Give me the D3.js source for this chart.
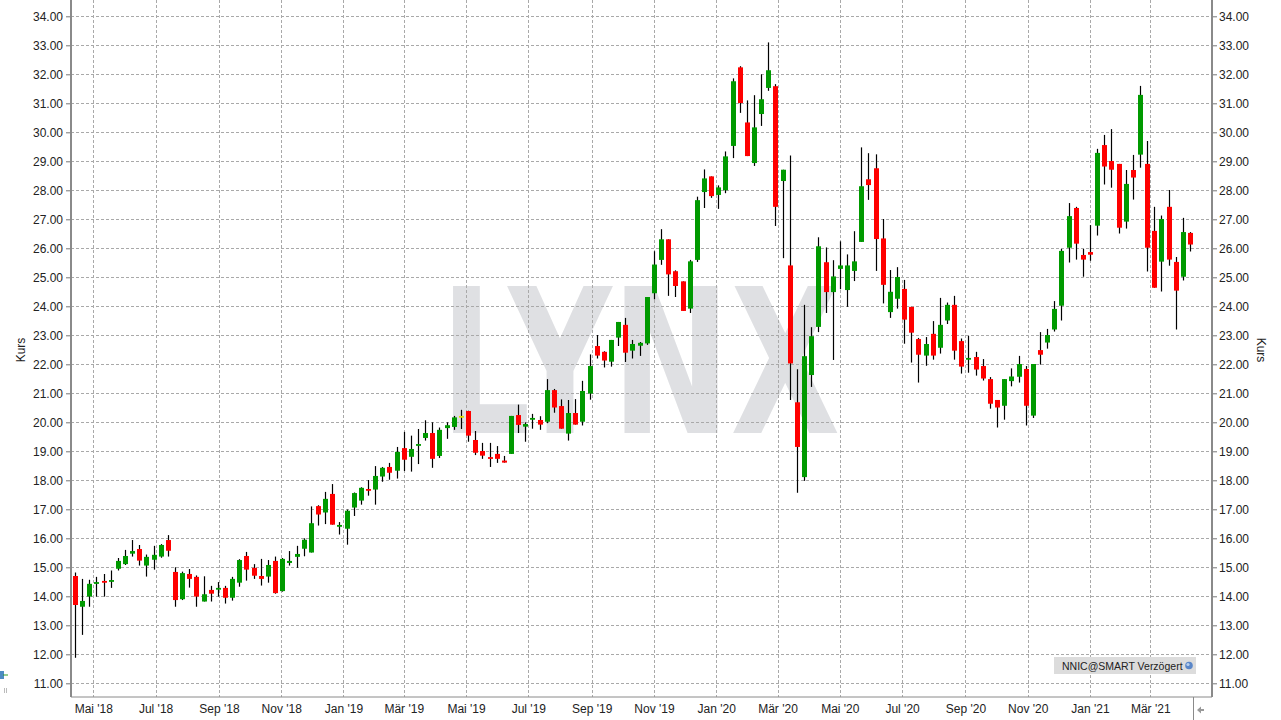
<!DOCTYPE html>
<html><head><meta charset="utf-8">
<script src="https://cdn.jsdelivr.net/npm/d3@7/dist/d3.min.js"></script>
<style>
html,body{margin:0;padding:0;background:#fff;}
svg{display:block;font-family:"Liberation Sans",Arial,sans-serif;}
</style></head>
<body>
<svg id="chart" width="1281" height="720"></svg>
<script>
// ---- data (weekly candles, NNIC) ----
const firstWeek = "2018-04-13";
const opens = [14.70,13.64,13.99,14.44,14.53,14.51,14.95,15.11,15.47,15.63,15.06,15.26,15.37,15.94,14.84,13.90,14.77,14.67,13.82,14.22,
14.23,14.29,13.95,14.47,15.39,14.98,14.70,14.68,15.22,14.18,15.15,15.36,15.64,15.51,17.11,16.89,17.53,16.40,16.33,17.06,
17.30,17.70,17.68,18.13,18.46,18.33,19.11,18.81,19.20,19.46,19.63,18.84,19.80,19.84,20.22,20.39,19.39,19.01,18.80,18.91,
18.68,18.91,20.25,19.85,20.09,20.08,20.02,21.11,20.56,19.61,20.32,20.02,20.99,22.63,22.43,22.09,22.92,23.36,22.47,22.64,
22.72,24.45,25.60,26.31,25.21,24.86,23.92,25.60,27.94,28.48,27.84,28.00,29.53,32.24,30.34,28.94,30.63,31.53,31.59,28.32,
25.41,20.69,18.11,21.63,23.29,25.52,24.49,25.29,24.56,25.22,26.22,28.38,28.76,26.34,23.80,24.26,24.60,23.98,22.87,22.30,
23.05,22.57,23.51,24.05,22.80,22.16,22.25,21.94,21.49,20.77,20.57,21.42,21.57,21.84,20.23,22.49,22.75,23.20,24.02,26.02,
27.39,25.77,25.87,26.78,29.56,29.01,28.91,26.92,28.70,29.23,28.91,26.60,25.54,27.43,25.53,25.02,26.53];
const highs = [14.82,14.60,14.57,14.67,14.77,14.89,15.32,15.60,15.94,15.77,15.44,15.74,15.80,16.11,15.00,14.85,14.94,14.72,14.69,14.36,
14.49,14.36,14.67,15.28,15.53,15.11,15.29,15.25,15.37,15.32,15.56,15.74,16.00,17.10,17.14,17.60,17.87,16.56,16.99,17.58,
17.76,18.01,18.49,18.46,18.60,19.15,19.67,19.54,19.77,20.07,20.00,19.82,20.00,20.22,20.43,20.40,19.70,19.29,19.29,19.18,
18.84,20.22,20.61,20.00,20.29,20.21,21.49,21.15,20.79,20.77,20.80,21.43,22.34,23.01,22.45,22.84,23.46,23.60,22.84,22.77,
24.32,25.90,26.66,26.31,25.24,24.86,25.60,27.78,28.72,28.48,28.17,29.34,31.86,32.28,31.10,31.28,32.00,33.10,31.66,28.71,
29.20,21.83,24.05,23.28,26.38,26.03,25.59,26.24,25.79,26.59,29.48,29.28,29.24,27.01,25.25,25.35,24.91,23.98,22.91,22.94,
23.49,24.29,24.13,24.36,22.89,22.98,22.43,22.18,21.56,20.77,21.49,21.86,22.29,21.94,22.01,23.11,23.22,24.18,25.98,27.56,
27.43,25.98,26.80,29.43,29.91,30.11,28.91,28.70,29.22,31.60,29.70,27.43,27.13,28.01,25.70,27.05,26.56];
const lows = [11.88,12.67,13.64,13.99,13.99,14.29,14.89,15.08,15.37,15.06,14.68,14.92,15.33,15.37,13.64,13.87,14.30,13.64,13.82,13.82,
13.99,13.75,13.85,14.33,14.54,14.60,14.37,14.47,14.09,14.16,15.06,14.98,15.38,15.51,16.44,16.49,16.47,16.13,15.78,16.77,
17.16,17.47,17.16,17.95,18.02,18.06,18.32,18.30,18.56,19.37,18.43,18.77,19.43,19.74,19.77,19.33,18.87,18.74,18.46,18.60,
18.61,18.91,19.63,19.33,19.78,19.74,19.97,20.33,19.78,19.37,19.92,19.89,20.78,22.20,21.89,21.92,22.63,22.08,22.20,22.29,
22.67,24.24,25.43,24.36,24.32,23.84,23.77,25.53,27.39,27.74,27.36,27.90,29.11,30.67,29.18,28.84,30.22,31.43,26.77,25.66,
20.77,17.57,17.98,21.22,23.11,23.77,22.15,24.59,23.98,24.87,26.22,27.67,25.22,24.10,23.60,23.92,22.71,22.06,21.37,21.95,
22.16,22.37,23.39,22.16,21.68,21.71,21.61,21.44,20.47,19.82,20.09,21.24,21.37,19.89,20.15,21.99,22.54,23.13,23.51,25.51,
25.61,25.02,25.57,26.44,28.20,28.09,26.51,26.68,27.68,28.78,25.20,24.64,24.51,25.40,23.20,24.89,25.89];
const closes = [13.70,13.84,14.43,14.49,14.47,14.56,15.22,15.39,15.56,15.23,15.36,15.43,15.77,15.57,13.87,14.80,14.60,13.99,14.07,14.09,
14.29,13.95,14.60,15.25,14.92,14.71,14.60,15.08,14.11,15.29,15.22,15.46,15.95,16.52,16.82,17.36,16.47,16.46,16.95,17.56,
17.74,17.64,18.15,18.43,18.26,18.98,18.71,19.08,19.25,19.63,18.74,19.74,19.90,20.17,20.22,19.54,18.95,18.85,18.74,18.74,
18.61,20.22,19.91,19.94,20.15,19.92,21.11,20.51,19.78,20.32,19.92,21.08,21.94,22.30,22.13,22.84,23.46,22.40,22.70,22.74,
24.32,25.44,26.31,25.10,24.70,23.84,25.55,27.66,28.41,27.80,28.10,29.17,31.76,31.01,29.18,30.17,31.14,32.14,27.43,28.71,
22.03,19.15,22.28,22.97,26.07,24.49,25.03,25.41,25.41,25.55,28.14,28.18,26.32,24.74,24.50,25.01,23.54,23.09,22.33,22.70,
22.30,23.36,24.05,22.47,21.92,22.22,21.82,21.51,20.64,20.51,21.49,21.58,22.01,20.57,22.01,22.33,23.01,23.91,25.91,27.11,
26.16,25.61,25.78,29.29,28.82,28.71,26.71,28.22,28.44,31.29,26.02,24.64,27.01,25.61,24.54,26.56,26.13];

const yTicks = [11,12,13,14,15,16,17,18,19,20,21,22,23,24,25,26,27,28,29,30,31,32,33,34];
const xTickDates = ["2018-05-01","2018-07-01","2018-09-01","2018-11-01","2019-01-01","2019-03-01","2019-05-01","2019-07-01","2019-09-01",
"2019-11-01","2020-01-01","2020-03-01","2020-05-01","2020-07-01","2020-09-01","2020-11-01","2021-01-01","2021-03-01"];
const xTickLabels = ["Mai '18","Jul '18","Sep '18","Nov '18","Jan '19","Mär '19","Mai '19","Jul '19","Sep '19",
"Nov '19","Jan '20","Mär '20","Mai '20","Jul '20","Sep '20","Nov '20","Jan '21","Mär '21"];
const axisTitle = "Kurs";
const sourceLabel = "NNIC@SMART Verzögert";
const watermark = "LYNX";

// ---- layout ----
const L = 71, R = 1212, T = 0, B = 697;
const parse = d3.utcParse("%Y-%m-%d");
const start = parse(firstWeek);
const dates = opens.map((_, i) => d3.utcDay.offset(start, 7 * i));
const data = opens.map((o, i) => ({date: dates[i], o, h: highs[i], l: lows[i], c: closes[i]}));

const x = d3.scaleUtc().domain([parse("2018-05-01"), parse("2021-01-01")]).range([93.3, 1090]);
const y = d3.scaleLinear().domain([11, 34]).range([683.3, 16.3]);

const svg = d3.select("#chart");
svg.append("defs").append("clipPath").attr("id", "plot")
  .append("rect").attr("x", L).attr("y", T).attr("width", R - L).attr("height", B - T);

// watermark
svg.append("text").attr("x", 440).attr("y", 433)
  .attr("font-family", "DejaVu Sans").attr("font-weight", "bold").attr("font-size", 202)
  .attr("textLength", 400).attr("lengthAdjust", "spacingAndGlyphs")
  .attr("fill", "#dfe0e3").text(watermark);

// grid
const grid = svg.append("g").attr("stroke", "#a9a9a9").attr("stroke-width", 1).attr("stroke-dasharray", "3,2");
grid.selectAll("line.h").data(yTicks).join("line").attr("class", "h")
  .attr("x1", L).attr("x2", R).attr("y1", d => Math.round(y(d)) + 0.5).attr("y2", d => Math.round(y(d)) + 0.5);
grid.selectAll("line.v").data(xTickDates).join("line").attr("class", "v")
  .attr("y1", T).attr("y2", B).attr("x1", d => Math.round(x(parse(d))) + 0.5).attr("x2", d => Math.round(x(parse(d))) + 0.5);

// candles
const cg = svg.append("g").attr("clip-path", "url(#plot)");
const bw = 5;
const candle = cg.selectAll("g.c").data(data).join("g").attr("class", "c")
  .attr("transform", d => `translate(${Math.round(x(d.date))},0)`);
candle.append("line").attr("x1", 0.5).attr("x2", 0.5)
  .attr("y1", d => y(d.h)).attr("y2", d => y(d.l)).attr("stroke", "#000").attr("stroke-width", 1.2);
candle.append("rect").attr("x", -2).attr("width", bw)
  .attr("y", d => y(Math.max(d.o, d.c)))
  .attr("height", d => Math.max(1.8, Math.abs(y(d.o) - y(d.c))))
  .attr("fill", d => d.c > d.o ? "#009a00" : (d.c < d.o ? "#ff0000" : "#e0e000"));

// axes
const yLeft = d3.axisLeft(y).tickValues(yTicks).tickFormat(d3.format(".2f")).tickSize(5).tickPadding(3);
const yRight = d3.axisRight(y).tickValues(yTicks).tickFormat(d3.format(".2f")).tickSize(5).tickPadding(2);
const gl = svg.append("g").attr("transform", `translate(${L},0)`).call(yLeft);
const gr = svg.append("g").attr("transform", `translate(${R},0)`).call(yRight);
[gl, gr].forEach(g => {
  g.select(".domain").remove();
  g.selectAll(".tick line").attr("stroke", "#777");
  g.selectAll(".tick text").attr("font-size", 12).attr("fill", "#222")
    .attr("font-family", "Liberation Sans, Arial, sans-serif");
});
const xAxis = d3.axisBottom(x).tickValues(xTickDates.map(parse)).tickFormat((d, i) => xTickLabels[i]).tickSize(0).tickPadding(7);
const gx = svg.append("g").attr("transform", `translate(0,${B})`).call(xAxis);
gx.select(".domain").remove();
gx.selectAll(".tick text").attr("font-size", 12).attr("fill", "#222")
  .attr("font-family", "Liberation Sans, Arial, sans-serif");

// frame
svg.append("line").attr("x1", L).attr("x2", L).attr("y1", T).attr("y2", B).attr("stroke", "#8a8a8a").attr("stroke-width", 2);
svg.append("line").attr("x1", R).attr("x2", R).attr("y1", T).attr("y2", B).attr("stroke", "#8a8a8a").attr("stroke-width", 2);
svg.append("line").attr("x1", L).attr("x2", R).attr("y1", B).attr("y2", B).attr("stroke", "#8a8a8a").attr("stroke-width", 1);

// axis titles
svg.append("text").attr("transform", `translate(25,350) rotate(-90)`).attr("text-anchor", "middle")
  .attr("font-size", 12).attr("fill", "#222").text(axisTitle);
svg.append("text").attr("transform", `translate(1257,350) rotate(90)`).attr("text-anchor", "middle")
  .attr("font-size", 12).attr("fill", "#222").text(axisTitle);

// source label
svg.append("rect").attr("x", 1054).attr("y", 657).attr("width", 142).attr("height", 17).attr("fill", "#dcdcdc");
svg.append("text").attr("x", 1062).attr("y", 669.5).attr("font-size", 10.5).attr("fill", "#222").text(sourceLabel);
svg.append("circle").attr("cx", 1189).attr("cy", 665.5).attr("r", 3.8).attr("fill", "#5a86c8");
svg.append("circle").attr("cx", 1188).attr("cy", 664.5).attr("r", 1.6).attr("fill", "#b8d0ee");

// bottom right separator and arrow
svg.append("line").attr("x1", 1193.5).attr("x2", 1193.5).attr("y1", B).attr("y2", 720).attr("stroke", "#8a8a8a");
svg.append("path").attr("d", "M1197,710 L1201,706.5 L1201,713.5 Z M1201,709 L1204,709 L1204,711 L1201,711 Z").attr("fill", "#999");

// bottom left icons
svg.append("rect").attr("x", 0).attr("y", 671).attr("width", 4).attr("height", 8).attr("fill", "#4d8cc4");
svg.append("path").attr("d", "M3,675 L8,675").attr("stroke", "#2a9a2a").attr("stroke-width", 1);
svg.append("path").attr("d", "M4.5,688 L4.5,693 M6.5,688 L6.5,693").attr("stroke", "#bbb").attr("stroke-width", 1);
</script>
</body></html>
